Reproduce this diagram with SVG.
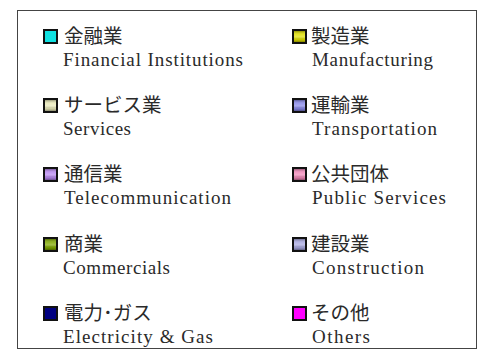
<svg xmlns="http://www.w3.org/2000/svg" width="493" height="359" viewBox="0 0 493 359">
<style>
.jp{font-family:"Noto Sans CJK JP","Noto Sans",sans-serif;font-size:19.5px;fill:#2a2a2a}
.en{font-family:"Liberation Serif","Times New Roman",serif;font-size:19px;fill:#2a2a2a}
.sw{stroke:#111;stroke-width:2}
.sh{fill:url(#shade);stroke:none}
</style>
<defs>
<linearGradient id="shade" x1="0" y1="0" x2="0" y2="1">
<stop offset="0" stop-color="#000" stop-opacity="0.35"/>
<stop offset="0.3" stop-color="#fff" stop-opacity="0.15"/>
<stop offset="0.55" stop-color="#fff" stop-opacity="0.3"/>
<stop offset="0.8" stop-color="#000" stop-opacity="0.1"/>
<stop offset="1" stop-color="#000" stop-opacity="0.4"/>
</linearGradient>
</defs>
<rect x="17.5" y="10.5" width="459" height="338" fill="#fff" stroke="#444" stroke-width="1"/>
<g id="finance">
<rect class="sw" x="44" y="30" width="13" height="13" fill="#10e0e0"/>
<text class="jp" x="64" y="43">金融業</text>
<text class="en" x="63" y="66" textLength="180" lengthAdjust="spacing">Financial Institutions</text>
</g>
<g id="manufacturing">
<rect class="sw" x="293" y="30" width="13" height="13" fill="#e0e000"/>
<rect class="sh" x="294" y="31" width="11" height="11"/>
<text class="jp" x="311" y="43">製造業</text>
<text class="en" x="312" y="66" textLength="121" lengthAdjust="spacing">Manufacturing</text>
</g>
<g id="services">
<rect class="sw" x="44" y="99" width="13" height="13" fill="#e8e8b8"/>
<rect class="sh" x="45" y="100" width="11" height="11"/>
<text class="jp" x="64" y="112">サービス業</text>
<text class="en" x="63" y="135" textLength="68" lengthAdjust="spacing">Services</text>
</g>
<g id="transportation">
<rect class="sw" x="293" y="99" width="13" height="13" fill="#8888e8"/>
<rect class="sh" x="294" y="100" width="11" height="11"/>
<text class="jp" x="311" y="112">運輸業</text>
<text class="en" x="312" y="135" textLength="125" lengthAdjust="spacing">Transportation</text>
</g>
<g id="telecom">
<rect class="sw" x="44" y="168" width="13" height="13" fill="#b888f0"/>
<rect class="sh" x="45" y="169" width="11" height="11"/>
<text class="jp" x="64" y="181">通信業</text>
<text class="en" x="64" y="204" textLength="167" lengthAdjust="spacing">Telecommunication</text>
</g>
<g id="public">
<rect class="sw" x="293" y="168" width="13" height="13" fill="#f088b8"/>
<rect class="sh" x="294" y="169" width="11" height="11"/>
<text class="jp" x="311" y="181">公共団体</text>
<text class="en" x="312" y="204" textLength="134" lengthAdjust="spacing">Public Services</text>
</g>
<g id="commercial">
<rect class="sw" x="44" y="238" width="13" height="13" fill="#80a800"/>
<rect class="sh" x="45" y="239" width="11" height="11"/>
<text class="jp" x="64" y="251">商業</text>
<text class="en" x="63" y="274" textLength="107" lengthAdjust="spacing">Commercials</text>
</g>
<g id="construction">
<rect class="sw" x="293" y="238" width="13" height="13" fill="#a8a8e0"/>
<rect class="sh" x="294" y="239" width="11" height="11"/>
<text class="jp" x="311" y="251">建設業</text>
<text class="en" x="312" y="274" textLength="112" lengthAdjust="spacing">Construction</text>
</g>
<g id="electricity">
<rect class="sw" x="44" y="307" width="13" height="13" fill="#000080"/>
<text class="jp" x="64" y="320">電力･ガス</text>
<text class="en" x="63" y="343" textLength="150" lengthAdjust="spacing">Electricity &amp; Gas</text>
</g>
<g id="others">
<rect class="sw" x="293" y="307" width="13" height="13" fill="#ff00ff"/>
<text class="jp" x="311" y="320">その他</text>
<text class="en" x="312" y="343" textLength="58" lengthAdjust="spacing">Others</text>
</g>
<g id="connectors"/>
</svg>
